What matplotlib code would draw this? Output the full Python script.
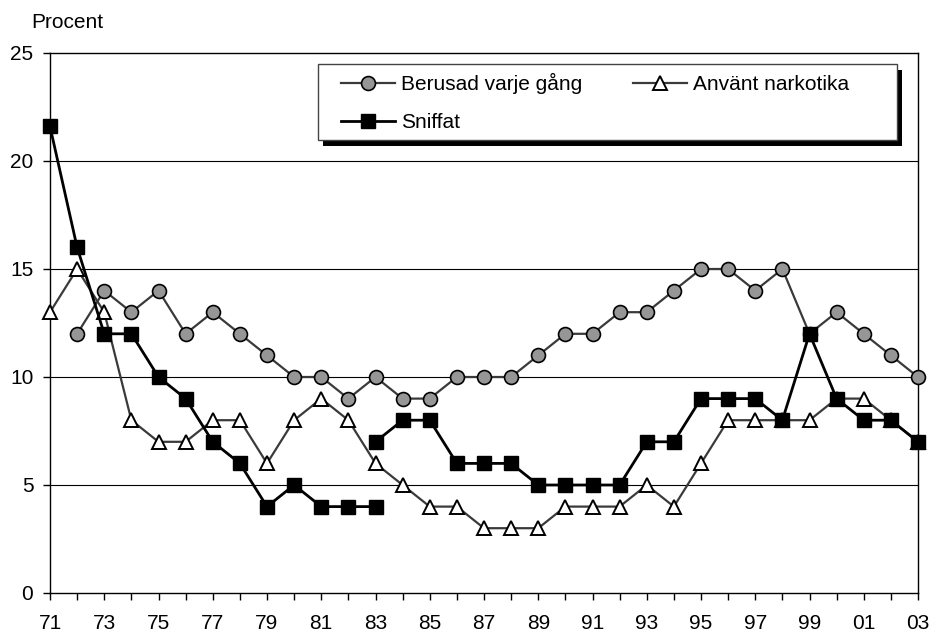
import numpy as np
import matplotlib
matplotlib.use("Agg")
import matplotlib.pyplot as plt
from matplotlib.patches import Rectangle

plt.rcParams['font.family'] = ['Liberation Sans', 'DejaVu Sans']

years = list(range(1971, 2004))
tick_labels = ["71", "", "73", "", "75", "", "77", "", "79", "", "81", "", "83", "",
               "85", "", "87", "", "89", "", "91", "", "93", "", "95", "", "97", "",
               "99", "", "01", "", "03"]
nan = np.nan
berusad = [nan, 12, 14, 13, 14, 12, 13, 12, 11, 10, 10, 9, 10, 9, 9, 10, 10, 10,
           11, 12, 12, 13, 13, 14, 15, 15, 14, 15, 12, 13, 12, 11, 10]
anvant = [13, 15, 13, 8, 7, 7, 8, 8, 6, 8, 9, 8, 6, 5, 4, 4, 3, 3,
          3, 4, 4, 4, 5, 4, 6, 8, 8, 8, 8, 9, 9, 8, 7]
sniffat_old = [21.6, 16, 12, 12, 10, 9, 7, 6, 4, 5, 4, 4, 4, nan, nan, nan, nan, nan,
               nan, nan, nan, nan, nan, nan, nan, nan, nan, nan, nan, nan, nan, nan, nan]
sniffat_new = [nan, nan, nan, nan, nan, nan, nan, nan, nan, nan, nan, nan, 7, 8, 8, 6, 6, 6,
               5, 5, 5, 5, 7, 7, 9, 9, 9, 8, 12, 9, 8, 8, 7]
labels = ["Berusad varje gång", "Använt narkotika", "Sniffat"]

W, H = 932, 634
fig = plt.figure(figsize=(W / 100, H / 100), dpi=100)
ax = fig.add_axes([50 / W, 1 - 593 / H, 868 / W, 540 / H])

ax.plot(years, berusad, color='#3a3a3a', lw=1.6, marker='o', ms=10,
        mfc='#969696', mec='black', mew=1.2, label=labels[0], zorder=3, clip_on=False)
ax.plot(years, anvant, color='#3a3a3a', lw=1.6, marker='^', ms=10,
        mfc='white', mec='black', mew=1.4, label=labels[1], zorder=4, clip_on=False)
ax.plot(years, sniffat_old, color='black', lw=2.0, marker='s', ms=9.5,
        mfc='black', mec='black', label=labels[2], zorder=5, clip_on=False)
ax.plot(years, sniffat_new, color='black', lw=2.0, marker='s', ms=9.5,
        mfc='black', mec='black', zorder=5, clip_on=False)

ax.set_xlim(years[0], years[-1])
ax.set_ylim(0, 25)
ax.set_yticks([0, 5, 10, 15, 20, 25])
ax.set_xticks(years)
ax.set_xticklabels(tick_labels)
for y in [5, 10, 15, 20]:
    ax.axhline(y, color='black', lw=0.8, zorder=1)

for s in ax.spines.values():
    s.set_color('black')
    s.set_linewidth(1.0)
    s.set_zorder(2)
ax.tick_params(axis='both', direction='out', length=5, width=1, colors='black',
               labelsize=15)
ax.tick_params(axis='x', pad=10)
ax.tick_params(axis='y', pad=7)

# legend frame with solid shadow (pixel coordinates -> figure fraction)
def fx(px):
    return px / W

def fy(py):
    return 1 - py / H

lx0, ly0, lx1, ly1 = 318, 64, 897, 140
fig.patches.append(Rectangle((fx(lx0 + 5), fy(ly1 + 6)), fx(lx1 - lx0), (ly1 - ly0) / H,
                             transform=fig.transFigure, facecolor='black',
                             edgecolor='none', zorder=8))
fig.patches.append(Rectangle((fx(lx0), fy(ly1)), fx(lx1 - lx0), (ly1 - ly0) / H,
                             transform=fig.transFigure, facecolor='white',
                             edgecolor='#444444', lw=1.0, zorder=9))

handles, labs = ax.get_legend_handles_labels()
order = [0, 2, 1]
leg = fig.legend([handles[i] for i in order], [labs[i] for i in order],
                 ncol=2, loc='upper left', bbox_to_anchor=(fx(341), fy(73)),
                 fontsize=15, frameon=False,
                 handlelength=2.6, handletextpad=0.3, columnspacing=2.4,
                 labelspacing=0.9, borderpad=0, borderaxespad=0)
leg.set_zorder(10)

fig.text(31 / W, 1 - 28 / H, "Procent", fontsize=15, ha='left', va='baseline')

fig.savefig("out.png", dpi=100)
